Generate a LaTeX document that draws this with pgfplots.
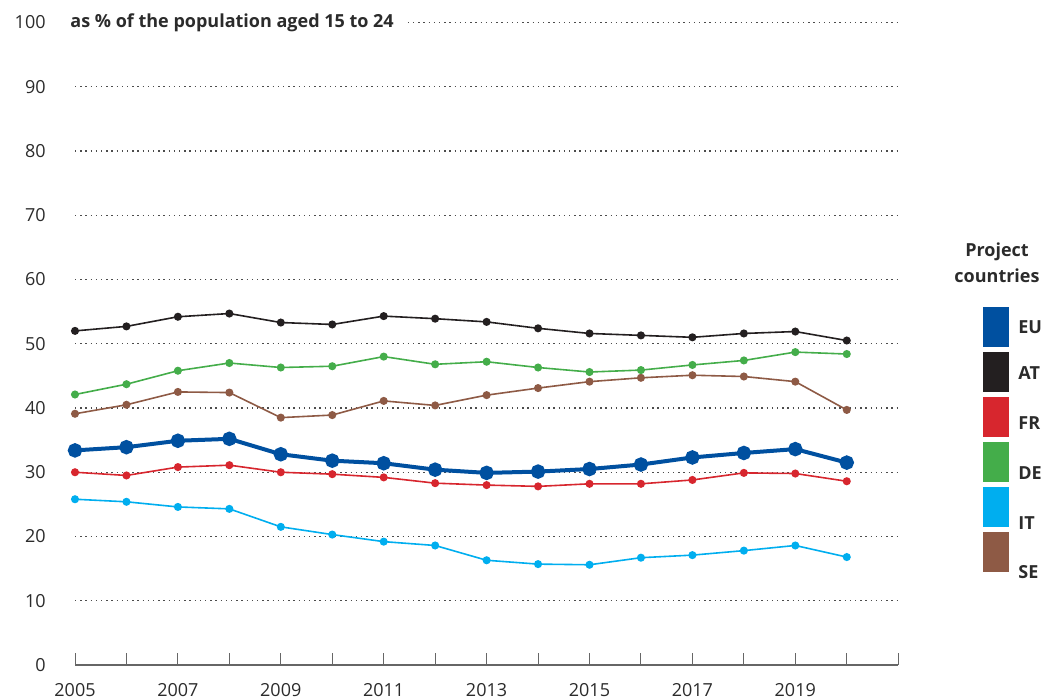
\documentclass[border=0pt]{standalone}
\usepackage{fontspec}
\setmainfont{Open Sans}
\usepackage{pgfplots}
\pgfplotsset{compat=1.18}
\definecolor{cEU}{HTML}{0050A0}
\definecolor{cAT}{HTML}{231F20}
\definecolor{cFR}{HTML}{D7262E}
\definecolor{cDE}{HTML}{44AD4A}
\definecolor{cIT}{HTML}{00AEEF}
\definecolor{cSE}{HTML}{8E5A45}
\definecolor{txt}{HTML}{2B2B2B}
\begin{document}
\fontsize{9}{11}\selectfont
\begin{tikzpicture}
\useasboundingbox (-37.5pt,-17pt) rectangle (483.5pt,332.5pt);
\begin{axis}[
  at={(0pt,0pt)}, anchor=south west,
  x=25.725pt, y=3.2125pt,
  xmin=2005, xmax=2021, ymin=0, ymax=100,
  axis x line=bottom, axis y line=left, axis line style={-},
  y axis line style={draw=none},
  x axis line style={draw=black!60, line width=0.6pt},
  xtick={2005,...,2021},
  xticklabels={2005,,2007,,2009,,2011,,2013,,2015,,2017,,2019,,},
  xtick align=inside, major tick length=6pt,
  xtick style={draw=black!60, line width=0.5pt},
  ytick={0,10,...,100}, ytick style={draw=none},
  ymajorgrids,
  grid style={draw=black!70, dash pattern=on 0.7pt off 1.9pt, line width=0.7pt},
  tick label style={font=\fontsize{9}{11}\selectfont, text=txt},
  yticklabel style={inner sep=0pt, anchor=east, xshift=-11.5pt},
  xticklabel style={inner sep=0pt, anchor=north, yshift=-9pt},
  /pgf/number format/assume math mode=true,
  clip=false,
]
\addplot[cSE, line width=0.8pt, mark=*, mark size=1.6pt] coordinates {
 (2005,39.1) (2006,40.5) (2007,42.5) (2008,42.4) (2009,38.5) (2010,38.9) (2011,41.1) (2012,40.4)
 (2013,42.0) (2014,43.1) (2015,44.1) (2016,44.7) (2017,45.1) (2018,44.9) (2019,44.1) (2020,39.7)};
\addplot[cIT, line width=0.8pt, mark=*, mark size=1.6pt] coordinates {
 (2005,25.8) (2006,25.4) (2007,24.6) (2008,24.3) (2009,21.5) (2010,20.3) (2011,19.2) (2012,18.6)
 (2013,16.3) (2014,15.7) (2015,15.6) (2016,16.7) (2017,17.1) (2018,17.8) (2019,18.6) (2020,16.8)};
\addplot[cDE, line width=0.8pt, mark=*, mark size=1.6pt] coordinates {
 (2005,42.1) (2006,43.7) (2007,45.8) (2008,47.0) (2009,46.3) (2010,46.5) (2011,48.0) (2012,46.8)
 (2013,47.2) (2014,46.3) (2015,45.6) (2016,45.9) (2017,46.7) (2018,47.4) (2019,48.7) (2020,48.4)};
\addplot[cFR, line width=0.8pt, mark=*, mark size=1.6pt] coordinates {
 (2005,30.0) (2006,29.5) (2007,30.8) (2008,31.1) (2009,30.0) (2010,29.7) (2011,29.2) (2012,28.3)
 (2013,28.0) (2014,27.8) (2015,28.2) (2016,28.2) (2017,28.8) (2018,29.9) (2019,29.8) (2020,28.6)};
\addplot[cAT, line width=0.8pt, mark=*, mark size=1.6pt] coordinates {
 (2005,52.0) (2006,52.7) (2007,54.2) (2008,54.7) (2009,53.3) (2010,53.0) (2011,54.3) (2012,53.9)
 (2013,53.4) (2014,52.4) (2015,51.6) (2016,51.3) (2017,51.0) (2018,51.6) (2019,51.9) (2020,50.5)};
\addplot[cEU, line width=2pt, mark=*, mark size=2.6pt] coordinates {
 (2005,33.4) (2006,33.9) (2007,34.9) (2008,35.2) (2009,32.8) (2010,31.8) (2011,31.4) (2012,30.4)
 (2013,29.9) (2014,30.1) (2015,30.5) (2016,31.2) (2017,32.3) (2018,33.0) (2019,33.6) (2020,31.5)};
\node[anchor=west, fill=white, inner xsep=5pt, inner ysep=1pt, xshift=-7.5pt,
  font=\bfseries\fontsize{9}{11}\selectfont, text=txt] at (axis cs:2005,100)
  {as \% of the population aged 15 to 24};
\end{axis}
\node[font=\bfseries\fontsize{9}{13}\selectfont, align=center, text=txt] at (461pt,201pt) {Project\\countries};
\fill[cEU] (454pt,159.15pt) rectangle (467pt,178.85pt);
\fill[cAT] (454pt,136.65pt) rectangle (467pt,156.35pt);
\fill[cFR] (454pt,114.15pt) rectangle (467pt,133.85pt);
\fill[cDE] (454pt,91.65pt) rectangle (467pt,111.35pt);
\fill[cIT] (454pt,69.15pt) rectangle (467pt,88.85pt);
\fill[cSE] (454pt,46.65pt) rectangle (467pt,66.35pt);
\begin{scope}[every node/.style={anchor=west, inner sep=0pt, font=\bfseries\fontsize{9}{11}\selectfont, text=txt}]
\node at (471.5pt,168.85pt) {EU};
\node at (471.5pt,145.85pt) {AT};
\node at (471.5pt,120.85pt) {FR};
\node at (471.5pt,96.15pt) {DE};
\node at (471.5pt,71.15pt) {IT};
\node at (471.5pt,46.65pt) {SE};
\end{scope}
\end{tikzpicture}
\end{document}
